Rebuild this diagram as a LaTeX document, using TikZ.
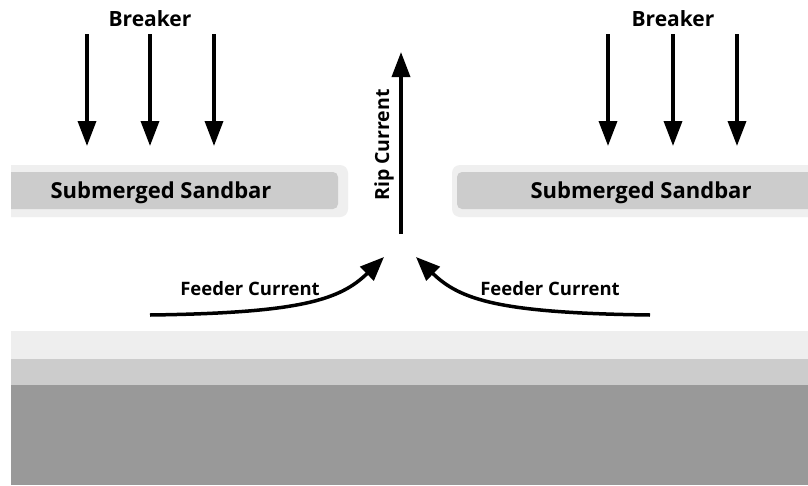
\documentclass[tikz,border=0pt]{standalone}
\usepackage{fontspec}
\setmainfont{Open Sans}
\usetikzlibrary{arrows.meta}
\definecolor{barouter}{HTML}{EFEFEF}
\definecolor{barinner}{HTML}{CCCCCC}
\definecolor{bandlight}{HTML}{EEEEEE}
\definecolor{bandmid}{HTML}{CCCCCC}
\definecolor{banddark}{HTML}{999999}
\tikzset{
  lbl/.style={font=\bfseries\fontsize{22}{26}\selectfont, inner sep=0pt, anchor=base},
  toplbl/.style={font=\bfseries\fontsize{21}{25}\selectfont, inner sep=0pt, anchor=base},
  riplbl/.style={font=\bfseries\fontsize{19.5}{23}\selectfont, inner sep=0pt, anchor=base},
  smalllbl/.style={font=\bfseries\fontsize{18.5}{22}\selectfont, inner sep=0pt, anchor=base},
  wave/.style={line width=3.5pt, -{Triangle[length=25pt,width=18pt]}},
  flow/.style={line width=3.5pt, -{Triangle[length=24pt,width=19pt]}},
}
\begin{document}
\begin{tikzpicture}[x=1pt,y=-1pt]
\useasboundingbox (0,0) rectangle (808,485);
\fill[white] (0,0) rectangle (808,485);

% beach bands
\fill[bandlight] (11,331) rectangle (808,359);
\fill[bandmid]   (11,359) rectangle (808,385);
\fill[banddark]  (11,385) rectangle (808,485);

% sandbars
\begin{scope}
  \clip (11,0) rectangle (808,485);
  \fill[barouter, rounded corners=8pt] (-20,165) rectangle (348,217);
  \fill[barinner, rounded corners=5pt] (-20,172) rectangle (338,209);
  \fill[barouter, rounded corners=8pt] (452,165) rectangle (840,217);
  \fill[barinner, rounded corners=5pt] (457,172) rectangle (840,209);
\end{scope}
\node[lbl] (sandL) at (161,198) {Submerged Sandbar};
\node[lbl] (sandR) at (641,198) {Submerged Sandbar};

% breakers
\node[toplbl] (brkL) at (150,26) {Breaker};
\node[toplbl] (brkR) at (673,26) {Breaker};
\foreach \n/\x in {L1/87, L2/150, L3/214, R1/608, R2/673, R3/737}{
  \coordinate (b\n s) at (\x,34);
  \coordinate (b\n e) at (\x,146);
  \draw[wave] (b\n s) -- (b\n e);
}

% rip current
\coordinate (ripS) at (401,234);
\coordinate (ripE) at (401,52);
\draw[wave] (ripS) -- (ripE);
\node[riplbl, rotate=90] (ripLbl) at (389,145) {Rip Current};

% feeder currents
\coordinate (feedLs) at (150,315);
\coordinate (feedLe) at (384,257);
\coordinate (feedRs) at (650,315);
\coordinate (feedRe) at (416,257);
\draw[flow] (feedLs) .. controls (300,313) and (340,300) .. (feedLe);
\draw[flow] (feedRs) .. controls (500,313) and (460,300) .. (feedRe);
\node[smalllbl] (feedLLbl) at (250,295) {Feeder Current};
\node[smalllbl] (feedRLbl) at (550,295) {Feeder Current};
\end{tikzpicture}
\end{document}
